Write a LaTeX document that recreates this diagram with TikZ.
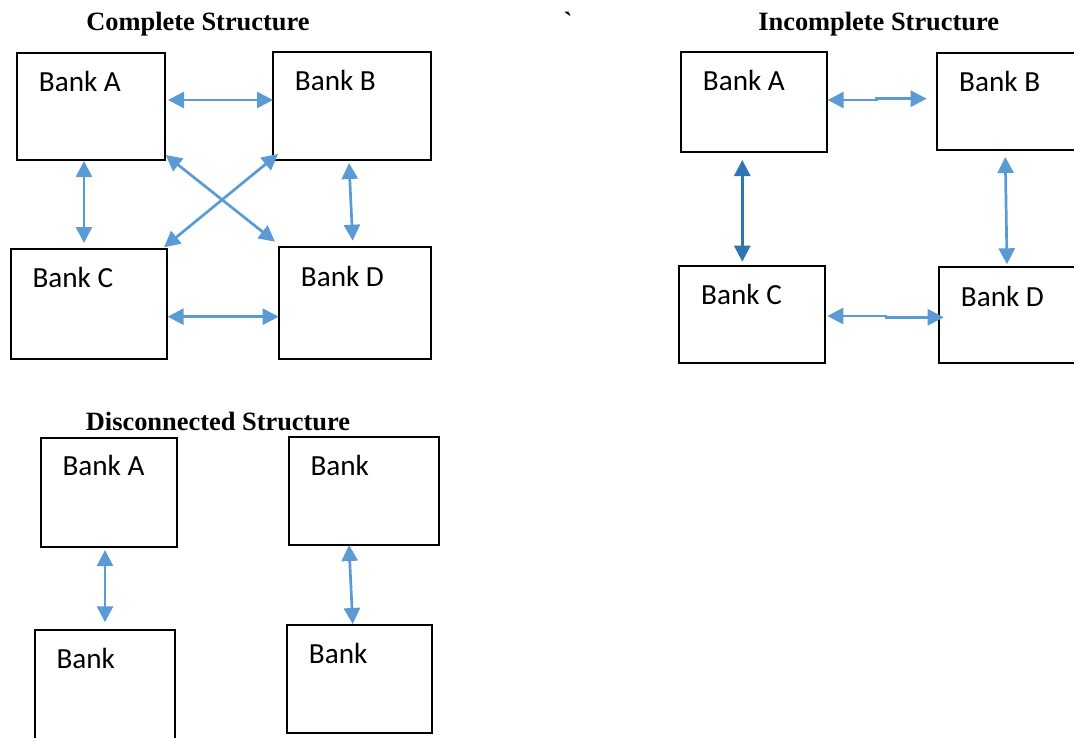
\documentclass[tikz,border=0pt]{standalone}
\usepackage{fontspec}
\setmainfont{Liberation Serif}
\newfontfamily\labelfont{Carlito}
\usetikzlibrary{arrows.meta}

\begin{document}
\begin{tikzpicture}[x=1pt, y=-1pt,
    bank/.style={draw, line width=1.5pt, inner sep=0pt, outer sep=0pt},
    banktext/.style={anchor=base west, inner sep=0pt, font=\labelfont\fontsize{29.2}{35}\selectfont},
    heading/.style={anchor=base, inner sep=0pt, font=\fontsize{26.4}{32}\selectfont\bfseries},
    link/.style={line width=2.7pt, color=linkblue, {Triangle[length=16pt,width=16pt]}-{Triangle[length=16pt,width=16pt]}},
    darklink/.style={link, color=darkblue}]
         \definecolor{linkblue}{HTML}{5B9BD5}
         \definecolor{darkblue}{HTML}{2E75B6}
         \useasboundingbox (0,0) rectangle (1074,737);

         \node[heading] (CT) at (198, 30.3) {Complete Structure};
         \node[heading] (tick) at (568, 30.5) {\textasciigrave};
         \node[heading] (IT) at (878.7, 30.7) {Incomplete Structure};
         \node[heading] (DT) at (218, 430) {Disconnected Structure};

         \node[bank, minimum width=148pt, minimum height=107pt] (cA) at (91, 106.5) {};
         \node[bank, minimum width=158pt, minimum height=108pt] (cB) at (352, 106) {};
         \node[bank, minimum width=156pt, minimum height=110pt] (cC) at (89, 304) {};
         \node[bank, minimum width=152pt, minimum height=112pt] (cD) at (355, 303) {};
         \node[banktext] (cAt) at (38.7, 91.7) {Bank A};
         \node[banktext] (cBt) at (294.7, 90) {Bank B};
         \node[banktext] (cCt) at (32.3, 287.3) {Bank C};
         \node[banktext] (cDt) at (300.7, 286) {Bank D};
         \draw [link] ([xshift=3pt, yshift=6.5pt]cA.east) -- ([yshift=6pt]cB.west);
         \draw [link] ([xshift=-7pt, yshift=-1pt]cA.south) -- ([xshift=-5pt, yshift=6pt]cC.north);
         \draw [link] ([xshift=-3pt, yshift=-3pt]cB.south) -- ([xshift=-2.3pt, yshift=6.3pt]cD.north);
         \draw [link] ([xshift=0.7pt, yshift=5pt]cA.south east) -- ([xshift=-4pt, yshift=5.3pt]cD.north west);
         \draw [link] ([xshift=5pt, yshift=6pt]cB.south west) -- ([xshift=-3pt, yshift=1.7pt]cC.north east);
         \draw [link] ([xshift=0.7pt, yshift=-12.7pt]cC.east) -- ([xshift=-0.3pt, yshift=-13.7pt]cD.west);

         \node[bank, minimum width=146pt, minimum height=100pt] (iA) at (754, 102) {};
         \node[bank, minimum width=148pt, minimum height=97pt] (iB) at (1011, 101.5) {};
         \node[bank, minimum width=146pt, minimum height=97pt] (iC) at (752, 314.5) {};
         \node[bank, minimum width=148pt, minimum height=96pt] (iD) at (1013, 315) {};
         \node[banktext] (iAt) at (702.7, 90) {Bank A};
         \node[banktext] (iBt) at (959, 91.7) {Bank B};
         \node[banktext] (iCt) at (701, 304) {Bank C};
         \node[banktext] (iDt) at (960.7, 306) {Bank D};
         \draw [link] ([xshift=0.7pt, yshift=2pt]iA.east) -- ++(49, 0) |- ([xshift=-10.3pt, yshift=2.8pt]iB.west);
         \draw [darklink] ([xshift=-11.7pt, yshift=-8pt]iA.south) -- ([xshift=-9.7pt, yshift=4.3pt]iC.north);
         \draw [link] ([xshift=-5.7pt, yshift=-7pt]iB.south) -- ([xshift=-6pt, yshift=2.7pt]iD.north);
         \draw [link] ([xshift=2.3pt, yshift=-1.5pt]iC.east) -- ++(58.7, 0) |- ([xshift=4.7pt, yshift=-2.3pt]iD.west);

         \node[bank, minimum width=136pt, minimum height=109pt] (dA) at (109, 492.5) {};
         \node[bank, minimum width=150pt, minimum height=108pt] (dB) at (364, 491) {};
         \node[bank, minimum width=140pt, minimum height=115pt] (dC) at (105, 687.5) {};
         \node[bank, minimum width=145pt, minimum height=108pt] (dD) at (359.5, 679) {};
         \node[banktext] (dAt) at (62.3, 475.7) {Bank A};
         \node[banktext] (dBt) at (310.3, 475) {Bank};
         \node[banktext] (dCt) at (56.3, 668.3) {Bank};
         \node[banktext] (dDt) at (308.7, 663.3) {Bank};
         \draw [link] ([xshift=-4pt, yshift=-3pt]dA.south) -- ([yshift=7.7pt]dC.north);
         \draw [link] ([xshift=-15pt]dB.south) -- ([xshift=-6.8pt, yshift=1pt]dD.north);
\end{tikzpicture}
\end{document}
